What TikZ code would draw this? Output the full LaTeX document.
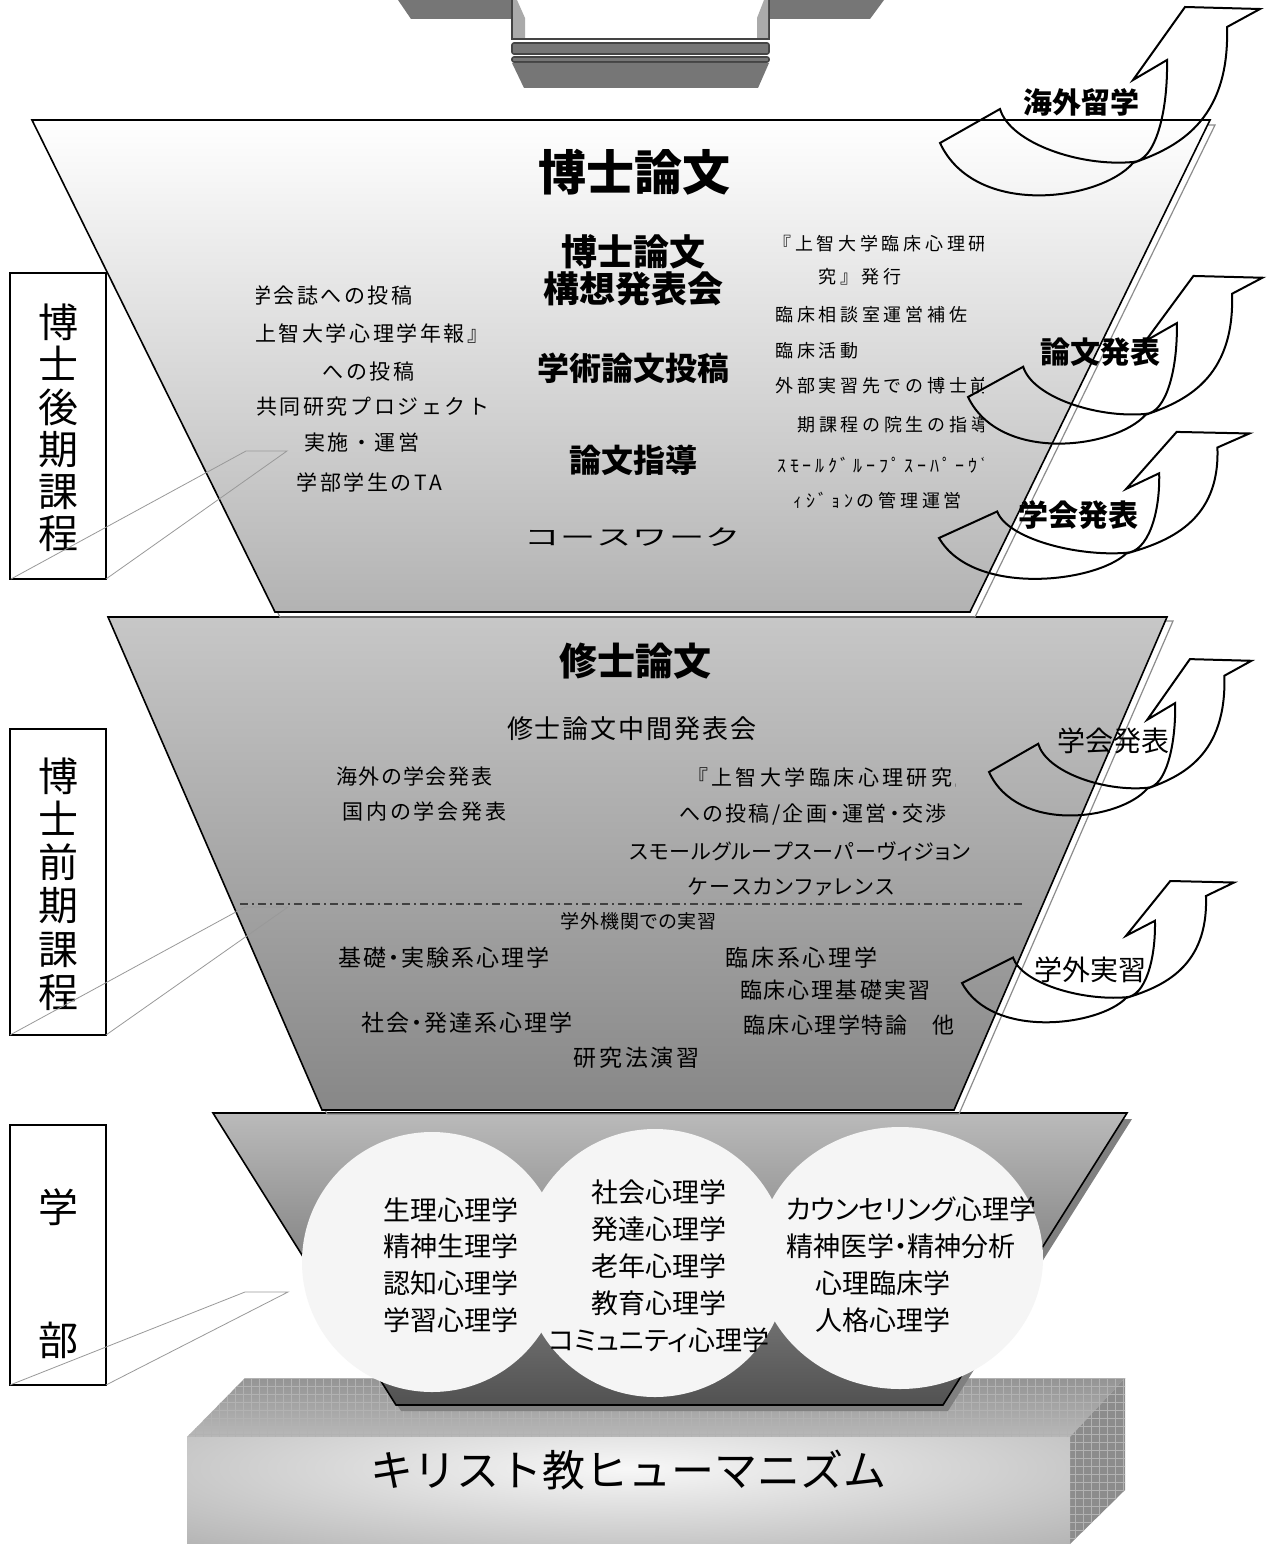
\documentclass[tikz,border=0pt]{standalone}
\usepackage{graphicx}
\usepackage{fontspec}
\newfontfamily\jp[RawFeature=+palt]{Noto Sans CJK JP}
\newfontfamily\jpm{Noto Sans CJK JP}
\newcommand\fpx[1]{\fontsize{\fpeval{#1*0.75}pt}{\fpeval{#1*0.9}pt}\selectfont}
\makeatletter
\def\lsp@end{\lsp@end}
\def\lsp@loop#1{\ifx#1\lsp@end\else#1\kern\lsp@amt\relax\expandafter\lsp@loop\fi}
\newcommand\spaced[2]{\def\lsp@amt{#1}\lsp@loop#2\lsp@end}
\makeatother
\definecolor{dk}{HTML}{444444}
\definecolor{wing}{HTML}{767676}
\definecolor{strip}{HTML}{AAAAAA}
\definecolor{cloud}{HTML}{F5F5F5}
\newcommand\bentarrow[4]{%
\begin{scope}[shift={(#1,#2)}, xscale=#3, yscale=#4]
\draw[arrowline] (0,0) -- (60,-34)
 .. controls (70,0) and (140,24) .. (193,19)
 .. controls (215,18) and (228,-30) .. (227,-83)
 -- (193,-63) -- (245,-136) -- (320,-134) -- (287,-116)
 .. controls (290,-20) and (235,5) .. (193,20)
 .. controls (160,58) and (35,75) .. (0,0) -- cycle;
\end{scope}}
\tikzset{
 tx/.style={inner sep=0pt, font=\jp},
 txm/.style={inner sep=0pt, font=\jpm},
 arrowline/.style={draw=black, line width=1.5pt, line join=miter},
 ptr/.style={draw=black!40, line width=0.6pt},
 lbox/.style={draw=black, line width=1.2pt},
 shadowline/.style={draw=black!45, line width=0.9pt},
 gridline/.style={draw=black!30, line width=0.3pt},
}
\begin{document}
\begin{tikzpicture}[x=0.75pt,y=-0.75pt]
\useasboundingbox (0,0) rectangle (1266,1544);
\fill[white] (0,0) rectangle (1266,1544);

% ---------- top element ----------
\fill[wing] (398,0) -- (411,19) -- (512,19) -- (512,0) -- cycle;
\fill[wing] (769,0) -- (769,19) -- (870,19) -- (884,0) -- cycle;
\draw[dk, line width=1.5pt, fill=white] (512,-3) -- (512,39) -- (769,39) -- (769,-3);
\fill[strip] (513,0) -- (517,0) -- (525,18) -- (525,38) -- (513,38) -- cycle;
\fill[strip] (768,0) -- (764,0) -- (757,18) -- (757,38) -- (768,38) -- cycle;
\draw[dk, line width=1.2pt, fill=wing, rounded corners=1.5pt] (512,43) rectangle (769,54);
\draw[dk, line width=1.2pt, fill=wing, rounded corners=1.5pt] (512,57) rectangle (769,62);
\fill[wing] (512,63) -- (769,63) -- (758,88) -- (524,88) -- cycle;

% ---------- base block ----------
\shade[top color=black!42, bottom color=black!28] (245,1378) -- (1125,1378) -- (1070,1437) -- (187,1437) -- cycle;
\fill[black!45] (1070,1437) -- (1125,1378) -- (1125,1490) -- (1070,1544) -- cycle;
\fill[black!40] (187,1437) rectangle (1070,1544);
\begin{scope}
\clip (245,1378) -- (1125,1378) -- (1125,1490) -- (1070,1544) -- (187,1544) -- (187,1437) -- cycle;
\foreach \gx in {187,195,...,1130} \draw[gridline] (\gx,1370) -- (\gx,1544);
\foreach \gy in {1378,1386,...,1544} \draw[gridline] (180,\gy) -- (1130,\gy);
\end{scope}
\begin{scope}
\clip (187,1437) rectangle (1070,1544);
\shade[inner color=white!97!black, outer color=black!40] (628,1468) ellipse [x radius=900, y radius=150];
\end{scope}
\node[txm] (base) at (628,1470) {\fpx{43}キリスト教ヒューマニズム};

% ---------- bottom trapezoid (学部) ----------
\fill[black!50] (218,1119) -- (1132,1119) -- (948,1411) -- (401,1411) -- cycle;
\shadedraw[top color=black!27, bottom color=black!68, draw=black, line width=1.2pt]
 (213,1113) -- (1127,1113) -- (943,1405) -- (396,1405) -- cycle;
\fill[cloud] (432,1262) ellipse [x radius=130, y radius=130];
\fill[cloud] (655,1263) ellipse [x radius=133, y radius=134];
\fill[cloud] (900,1258) ellipse [x radius=143, y radius=131];
\node[tx, align=center, font=\jp\fontsize{20.25pt}{27.5pt}\selectfont] (cl) at (451,1265)
 {生理心理学\\精神生理学\\認知心理学\\学習心理学};
\node[tx, align=center, font=\jp\fontsize{20.25pt}{27.75pt}\selectfont] (cm) at (659,1266)
 {社会心理学\\発達心理学\\老年心理学\\教育心理学\\コミュニティ心理学};
\node[tx] (cr1) at (911,1209) {\fpx{27}カウンセリング心理学};
\node[tx] (cr2) at (901,1246) {\fpx{27}精神医学・精神分析};
\node[tx] (cr3) at (883,1283) {\fpx{27}心理臨床学};
\node[tx] (cr4) at (883,1320) {\fpx{27}人格心理学};

% ---------- middle trapezoid (博士前期課程) ----------
\draw[shadowline] (113,621) -- (1173,621) -- (959,1114) -- (327,1114) -- cycle;
\shadedraw[top color=black!22, bottom color=black!47, draw=black, line width=1.2pt]
 (108,617) -- (1167,617) -- (954,1110) -- (322,1110) -- cycle;
\coordinate (dl) at (240,904);
\coordinate (dr) at (1025,904);
\draw[black!75, line width=0.8pt, dash pattern=on 6pt off 3pt on 1.5pt off 3pt] (dl) -- (dr);
\node[tx] (m0) at (635,661) {\fpx{38}\bfseries 修士論文};
\node[tx] (m1) at (633,729) {\fpx{26}\spaced{1.5pt}{修士論文中間発表会}};
\node[tx] (m2) at (415,777) {\fpx{21}\spaced{1.2pt}{海外の学会発表}};
\node[tx] (m3) at (426,812) {\fpx{21}\spaced{2.2pt}{国内の学会発表}};
\begin{scope}
\clip (680,760) rectangle (955,800);
\node[tx, anchor=west] (m4) at (697,778) {\fpx{21}\spaced{2.6pt}{『上智大学臨床心理研究』}};
\end{scope}
\node[tx] (m5) at (814,815) {\fpx{21}\spaced{1.8pt}{への投稿/企画・運営・交渉}};
\node[tx] (m6) at (800,851) {\fpx{21}\spaced{0.6pt}{スモールグループスーパーヴィジョン}};
\node[tx] (m7) at (792,887) {\fpx{21}\spaced{1.5pt}{ケースカンファレンス}};
\node[tx] (m8) at (639,921) {\fpx{19}\spaced{0.6pt}{学外機関での実習}};
\node[tx] (m9) at (445,958) {\fpx{23}\spaced{1.5pt}{基礎・実験系心理学}};
\node[tx] (m10) at (803,958) {\fpx{23}\spaced{2.2pt}{臨床系心理学}};
\node[tx] (m11) at (836,990) {\fpx{22}\spaced{1.5pt}{臨床心理基礎実習}};
\node[tx] (m12) at (468,1023) {\fpx{23}\spaced{1.5pt}{社会・発達系心理学}};
\node[tx] (m13) at (850,1025) {\fpx{22}\spaced{1.2pt}{臨床心理学特論　他}};
\node[tx] (m14) at (638,1058) {\fpx{23}\spaced{2.2pt}{研究法演習}};

% ---------- top trapezoid (博士後期課程) ----------
\draw[shadowline] (37,125) -- (1215,125) -- (975,617) -- (280,617) -- cycle;
\shadedraw[top color=white, bottom color=black!30, draw=black, line width=1.2pt]
 (32,120) -- (1210,120) -- (970,612) -- (275,612) -- cycle;
\node[tx] (t0) at (634,172) {\fpx{48}\bfseries 博士論文};
\node[tx, align=center, font=\jp\bfseries\fontsize{27pt}{27.75pt}\selectfont] (t1) at (633,270) {博士論文\\構想発表会};
\node[tx] (t2) at (633,368) {\fpx{32}\bfseries 学術論文投稿};
\node[tx] (t3) at (633,460) {\fpx{32}\bfseries 論文指導};
\node[txm] (t4) at (633,537) {\scalebox{1.6}[1]{\fpx{22}\spaced{0.5pt}{コースワーク}}};
\begin{scope}
\clip (256,270) rectangle (560,505);
\node[txm, anchor=east] (l1) at (415,295) {\fpx{21}\spaced{1.9pt}{学会誌への投稿}};
\node[txm, anchor=east] (l2) at (491,334) {\fpx{21}\spaced{1.9pt}{『上智大学心理学年報』}};
\node[txm, anchor=east] (l3) at (417,372) {\fpx{21}\spaced{1.9pt}{への投稿}};
\node[txm, anchor=east] (l4) at (492,407) {\fpx{21}\spaced{1.9pt}{共同研究プロジェクト}};
\node[txm, anchor=east] (l5) at (422,443) {\fpx{21}\spaced{1.9pt}{実施・運営}};
\node[txm, anchor=east] (l6) at (445,482) {\fpx{21}\spaced{1.9pt}{学部学生のTA}};
\end{scope}
\begin{scope}
\clip (760,225) rectangle (983,520);
\node[txm, anchor=west] (r1) at (773,244) {\fpx{18}\spaced{2.8pt}{『上智大学臨床心理研究』}};
\node[txm, anchor=west] (r2) at (818,277) {\fpx{18}\spaced{2.8pt}{究』発行}};
\node[txm, anchor=west] (r3) at (775,315) {\fpx{18}\spaced{2.8pt}{臨床相談室運営補佐}};
\node[txm, anchor=west] (r4) at (775,351) {\fpx{18}\spaced{2.8pt}{臨床活動}};
\node[txm, anchor=west] (r5) at (775,386) {\fpx{18}\spaced{2.8pt}{外部実習先での博士前}};
\node[txm, anchor=west] (r6) at (797,425) {\fpx{18}\spaced{2.8pt}{期課程の院生の指導}};
\node[txm, anchor=west] (r7) at (777,465) {\fpx{18}\spaced{2.8pt}{ｽﾓｰﾙｸﾞﾙｰﾌﾟｽｰﾊﾟｰｳﾞ}};
\node[txm, anchor=west] (r8) at (793,501) {\fpx{18}\spaced{2.8pt}{ｨｼﾞｮﾝの管理運営}};
\end{scope}

% ---------- left labels ----------
\draw[lbox] (10,273) rectangle (106,579);
\node[txm, align=center, font=\jpm\fontsize{30pt}{31.65pt}\selectfont] (lab1) at (58,428) {博\\士\\後\\期\\課\\程};
\draw[ptr] (11,579) -- (246,451) -- (287,451) -- (106,579);
\draw[lbox] (10,729) rectangle (106,1035);
\node[txm, align=center, font=\jpm\fontsize{30pt}{32.4pt}\selectfont] (lab2) at (58,884) {博\\士\\前\\期\\課\\程};
\draw[ptr] (10,1035) -- (245,907) -- (288,907) -- (106,1035);
\draw[lbox] (10,1125) rectangle (106,1385);
\node[txm] (lab3a) at (58,1207) {\fpx{40}学};
\node[txm] (lab3b) at (58,1340) {\fpx{40}部};
\draw[ptr] (10,1385) -- (245,1292) -- (288,1292) -- (106,1385);

% ---------- curved arrows ----------
\bentarrow{940}{143}{1}{1}
\bentarrow{968}{397}{0.92}{0.89}
\bentarrow{939}{538}{0.97}{0.78}
\bentarrow{989}{772}{0.82}{0.83}
\bentarrow{962}{983}{0.85}{0.75}
\node[tx] (a1) at (1081,102) {\fpx{29}\bfseries 海外留学};
\node[tx] (a2) at (1100,352) {\fpx{30}\bfseries 論文発表};
\node[tx] (a3) at (1078,515) {\fpx{30}\bfseries 学会発表};
\node[tx] (a4) at (1113,741) {\fpx{28}学会発表};
\node[tx] (a5) at (1090,970) {\fpx{28}学外実習};
\end{tikzpicture}
\end{document}
